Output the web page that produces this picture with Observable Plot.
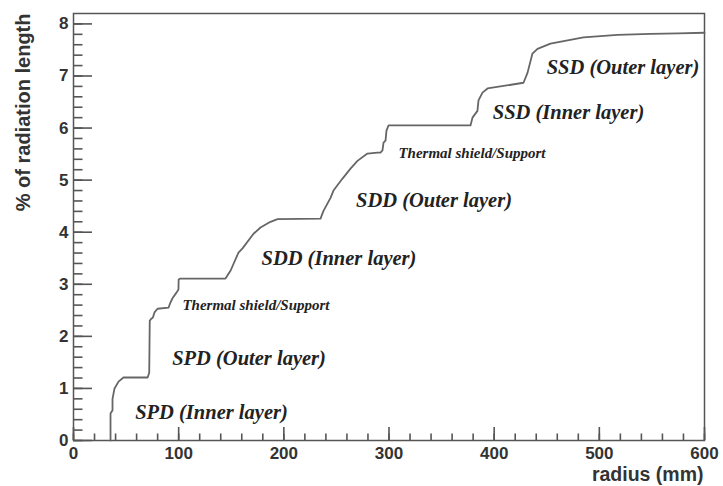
<!DOCTYPE html>
<html>
<head>
<meta charset="utf-8">
<script src="https://cdn.jsdelivr.net/npm/d3@7"></script>
<script src="https://cdn.jsdelivr.net/npm/@observablehq/plot@0.6"></script>
<style>
  body { margin: 0; background: #fff; }
  svg { display: block; }
</style>
</head>
<body>
<div id="chart"></div>
<script>
// Cumulative material budget of the tracker as a function of radius
const radius = [35.2, 35.2, 37.1, 37.1, 39.0, 42.8, 47.5, 70.5, 72.0, 72.5,
                74.0, 75.5, 77.0, 79.9, 90.3, 92.2, 94.1, 97.9, 99.8, 100.0,
                101.7, 144.5, 149.3, 156.9, 160.7, 171.2, 177.8, 187.3, 194.0, 234.9,
                237.7, 244.4, 247.2, 255.8, 263.4, 270.0, 279.5, 289.0, 291.9, 293.8,
                294.8, 296.7, 297.6, 299.5, 377.5, 379.4, 384.1, 385.1, 388.9, 393.7,
                427.9, 431.7, 436.4, 441.2, 453.5, 484.9, 517.3, 548.6, 575.0, 600.0];
const radLength = [0, 0.52, 0.58, 0.80, 1.00, 1.13, 1.21, 1.21, 1.30, 2.30,
                   2.34, 2.36, 2.46, 2.53, 2.55, 2.65, 2.73, 2.84, 2.90, 3.09,
                   3.11, 3.11, 3.26, 3.61, 3.69, 3.97, 4.09, 4.20, 4.25, 4.26,
                   4.41, 4.66, 4.80, 5.03, 5.22, 5.37, 5.51, 5.53, 5.53, 5.57,
                   5.72, 5.76, 5.95, 6.05, 6.05, 6.20, 6.33, 6.53, 6.68, 6.76,
                   6.87, 7.06, 7.43, 7.52, 7.62, 7.74, 7.79, 7.81, 7.82, 7.83];

// Detector layer annotations
const layerNames = ["SPD (Inner layer)", "SPD (Outer layer)", "SDD (Inner layer)",
                    "SDD (Outer layer)", "SSD (Inner layer)", "SSD (Outer layer)"];
const layerR = [131.2, 166.9, 252.4, 342.8, 470.7, 522.5];
const layerPct = [0.54, 1.57, 3.49, 4.61, 6.30, 7.16];

// Support structure annotations
const supportNames = ["Thermal shield/Support", "Thermal shield/Support"];
const supportR = [173.5, 378.9];
const supportPct = [2.59, 5.51];

// Axis ticks
const xMajor = [0, 100, 200, 300, 400, 500, 600];
const xMinor = d3.range(0, 601, 20);
const yMajor = [0, 1, 2, 3, 4, 5, 6, 7, 8];
const yMinor = d3.range(0, 8.19, 0.2);

const W = 723, H = 486;
const M = { left: 73, right: 19, top: 13, bottom: 46 };
const frameW = W - M.left - M.right;
const frameH = H - M.top - M.bottom;

const axisColor = "#555";
const serif = "'Liberation Serif', 'Times New Roman', serif";

// inward ticks: short rules standing on the axis lines
const ticksX = (ticks, len) =>
  Plot.ruleX(ticks, { x: (d) => d, insetTop: frameH - len, stroke: axisColor, strokeWidth: 1.6 });
const ticksY = (ticks, len) =>
  Plot.ruleY(ticks, { y: (d) => d, insetRight: frameW - len, stroke: axisColor, strokeWidth: 1.6 });

const chart = Plot.plot({
  width: W,
  height: H,
  marginLeft: M.left,
  marginRight: M.right,
  marginTop: M.top,
  marginBottom: M.bottom,
  style: { background: "#fff", fontFamily: "'Liberation Sans', Arial, sans-serif", color: "#333" },
  x: { domain: [0, 600] },
  y: { domain: [0, 8.2] },
  marks: [
    ticksX(xMinor, 6.5),
    ticksX(xMajor, 13),
    ticksY(yMinor, 9.5),
    ticksY(yMajor, 19),
    // tick labels
    Plot.axisX(xMajor, { tickSize: 0, tickPadding: 6, tickFormat: (d) => String(d), label: null, fontSize: 17, fontWeight: "bold", fill: "#333" }),
    Plot.axisY(yMajor, { tickSize: 0, tickPadding: 5, tickFormat: (d) => String(d), label: null, fontSize: 17, fontWeight: "bold", fill: "#333" }),
    Plot.frame({ stroke: axisColor, strokeWidth: 1.5 }),
    // cumulative radiation length curve
    Plot.line(radius, {
      x: (d) => d,
      y: (d, i) => radLength[i],
      stroke: "#666",
      strokeWidth: 1.8
    }),
    // annotations
    Plot.text(layerNames, {
      x: (d, i) => layerR[i],
      y: (d, i) => layerPct[i],
      text: (d) => d,
      fontFamily: serif,
      fontStyle: "italic",
      fontWeight: "bold",
      fontSize: 20.5,
      fill: "#222"
    }),
    Plot.text(supportNames, {
      x: (d, i) => supportR[i],
      y: (d, i) => supportPct[i],
      text: (d) => d,
      fontFamily: serif,
      fontStyle: "italic",
      fontWeight: "bold",
      fontSize: 15,
      fill: "#222"
    }),
    // axis titles
    Plot.text(["% of radiation length"], {
      text: (d) => d,
      frameAnchor: "top-left",
      rotate: -90,
      textAnchor: "end",
      dx: -58,
      dy: 0,
      fontSize: 20,
      fontWeight: "bold",
      fill: "#333"
    }),
    Plot.text(["radius (mm)"], {
      text: (d) => d,
      frameAnchor: "bottom-right",
      textAnchor: "end",
      dx: -1,
      dy: 40,
      fontSize: 19.5,
      fontWeight: "bold",
      fill: "#333"
    })
  ]
});

document.getElementById("chart").appendChild(chart);
</script>
</body>
</html>
